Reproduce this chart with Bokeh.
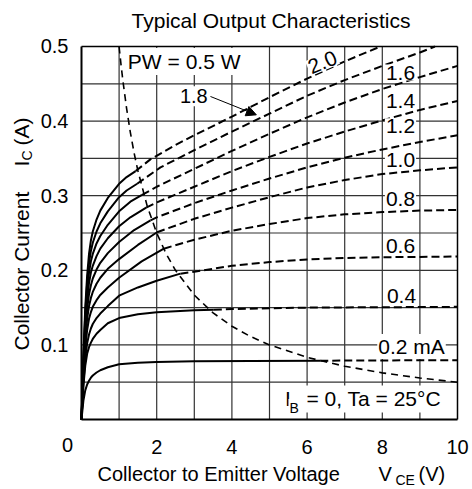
import math
from bokeh.plotting import figure
from bokeh.models import Range1d, FixedTicker, Label, Arrow, NormalHead
from bokeh.embed import file_html
from bokeh.resources import INLINE

FONT = "Liberation Sans"

# ---- data (V_CE in volts, I_C in amperes); k_* = index where the solid part turns dashed
ib_labels = ["2.0", "1.8", "1.6", "1.4", "1.2", "1.0", "0.8", "0.6", "0.4", "0.2 mA"]

v_ib20 = [0, 0.05, 0.1, 0.15, 0.2, 0.25, 0.3, 0.4, 0.5, 0.7, 1.0, 1.2, 1.44, 1.84, 2.5, 3, 4, 5, 6, 7, 7.95]
i_ib20 = [0, 0.085, 0.15, 0.193, 0.222, 0.24, 0.252, 0.268, 0.28, 0.297, 0.316, 0.325, 0.333, 0.349, 0.368, 0.381, 0.406, 0.432, 0.457, 0.48, 0.5]
k_ib20 = 12

v_ib18 = [0, 0.05, 0.1, 0.15, 0.2, 0.25, 0.3, 0.4, 0.5, 0.7, 1.0, 1.2, 1.48, 2.1, 3, 4, 5, 6, 7, 8, 9, 9.4]
i_ib18 = [0, 0.08, 0.142, 0.183, 0.21, 0.226, 0.237, 0.252, 0.263, 0.279, 0.298, 0.307, 0.316, 0.338, 0.361, 0.386, 0.41, 0.434, 0.455, 0.474, 0.492, 0.5]
k_ib18 = 12

v_ib16 = [0, 0.05, 0.1, 0.15, 0.2, 0.25, 0.3, 0.4, 0.5, 0.7, 1.0, 1.3, 1.61, 2, 3, 4, 5, 6, 7, 8, 9, 10]
i_ib16 = [0, 0.075, 0.134, 0.172, 0.197, 0.212, 0.222, 0.236, 0.246, 0.261, 0.279, 0.292, 0.301, 0.312, 0.336, 0.36, 0.383, 0.405, 0.425, 0.443, 0.459, 0.474]
k_ib16 = 12

v_ib14 = [0, 0.05, 0.1, 0.15, 0.2, 0.25, 0.3, 0.4, 0.5, 0.7, 1.0, 1.3, 1.72, 2, 3, 4, 5, 6, 7, 8, 9, 10]
i_ib14 = [0, 0.07, 0.125, 0.16, 0.183, 0.197, 0.206, 0.219, 0.229, 0.243, 0.259, 0.271, 0.284, 0.291, 0.312, 0.333, 0.352, 0.37, 0.386, 0.401, 0.415, 0.427]
k_ib14 = 12

v_ib12 = [0, 0.05, 0.1, 0.15, 0.2, 0.25, 0.3, 0.4, 0.5, 0.7, 1.0, 1.4, 1.835, 2, 3, 4, 5, 6, 7, 8, 9, 10]
i_ib12 = [0, 0.065, 0.115, 0.148, 0.168, 0.18, 0.189, 0.201, 0.21, 0.223, 0.238, 0.254, 0.267, 0.271, 0.29, 0.307, 0.323, 0.338, 0.351, 0.362, 0.372, 0.381]
k_ib12 = 12

v_ib10 = [0, 0.05, 0.1, 0.15, 0.2, 0.25, 0.3, 0.4, 0.5, 0.7, 1.0, 1.5, 2.01, 3, 4, 5, 6, 7, 8, 9, 10]
i_ib10 = [0, 0.06, 0.105, 0.135, 0.152, 0.163, 0.171, 0.182, 0.19, 0.202, 0.215, 0.234, 0.251, 0.269, 0.284, 0.298, 0.311, 0.321, 0.329, 0.334, 0.338]
k_ib10 = 12

v_ib08 = [0, 0.05, 0.1, 0.15, 0.2, 0.25, 0.3, 0.4, 0.5, 0.7, 1.0, 1.6, 2.19, 3, 4, 5, 6, 7, 8, 9, 10]
i_ib08 = [0, 0.055, 0.095, 0.12, 0.135, 0.144, 0.151, 0.16, 0.167, 0.177, 0.19, 0.212, 0.229, 0.241, 0.253, 0.262, 0.27, 0.275, 0.278, 0.28, 0.281]
k_ib08 = 12

v_ib06 = [0, 0.05, 0.1, 0.15, 0.2, 0.25, 0.3, 0.4, 0.5, 0.7, 1.0, 1.5, 2.0, 2.63, 3, 4, 5, 6, 7, 8, 10]
i_ib06 = [0, 0.048, 0.082, 0.102, 0.114, 0.122, 0.128, 0.136, 0.142, 0.152, 0.166, 0.177, 0.186, 0.1955, 0.198, 0.206, 0.211, 0.2145, 0.2165, 0.2175, 0.2185]
k_ib06 = 13

v_ib04 = [0, 0.05, 0.1, 0.15, 0.2, 0.25, 0.3, 0.4, 0.5, 0.7, 1.0, 1.5, 2.0, 3.0, 3.52, 4, 5, 6, 8, 10]
i_ib04 = [0, 0.045, 0.072, 0.088, 0.097, 0.103, 0.108, 0.115, 0.12, 0.129, 0.136, 0.141, 0.1437, 0.1465, 0.147, 0.148, 0.149, 0.15, 0.1505, 0.151]
k_ib04 = 14

v_ib02 = [0, 0.05, 0.1, 0.15, 0.2, 0.25, 0.3, 0.4, 0.5, 0.7, 1.0, 1.5, 2.0, 3.0, 4.5, 6.35, 8, 10]
i_ib02 = [0, 0.025, 0.039, 0.047, 0.052, 0.056, 0.059, 0.063, 0.066, 0.070, 0.074, 0.076, 0.077, 0.078, 0.0785, 0.0788, 0.0792, 0.0795]
k_ib02 = 15

# power limit PW = 0.5 W
pw_v = [1.0, 1.05, 1.1, 1.2, 1.3, 1.4, 1.5, 1.75, 2.0, 2.25, 2.5, 3.0, 3.5, 4.0, 4.5, 5.0, 6.0, 7.0, 8.0, 9.0, 10.0]
pw_i = [0.5, 0.476, 0.4545, 0.4167, 0.3846, 0.3571, 0.3333, 0.2857, 0.25, 0.2222, 0.2, 0.1667, 0.1429, 0.125, 0.1111, 0.1, 0.0833, 0.0714, 0.0625, 0.0556, 0.05]

x_ticks = [2, 4, 6, 8, 10]
y_ticks = [0.1, 0.2, 0.3, 0.4, 0.5]
x_grid = [1, 2, 3, 4, 5, 6, 7, 8, 9]
y_grid = [0.05, 0.1, 0.15, 0.2, 0.25, 0.3, 0.35, 0.4, 0.45]
x_lim = [0, 10]
y_lim = [0, 0.5]

curves = [
    (v_ib20, i_ib20, k_ib20), (v_ib18, i_ib18, k_ib18), (v_ib16, i_ib16, k_ib16),
    (v_ib14, i_ib14, k_ib14), (v_ib12, i_ib12, k_ib12), (v_ib10, i_ib10, k_ib10),
    (v_ib08, i_ib08, k_ib08), (v_ib06, i_ib06, k_ib06), (v_ib04, i_ib04, k_ib04),
    (v_ib02, i_ib02, k_ib02),
]

# whole canvas is the frame; the data box 0..10 x 0..0.5 sits at px (81..457, 46..419)
p = figure(width=472, height=489,
           x_range=Range1d(-2.15426, 10.39894), y_range=Range1d(-0.093834, 0.561662),
           output_backend="svg", toolbar_location=None, min_border=0)
p.background_fill_color = "white"
p.border_fill_color = "white"
p.outline_line_color = None
p.xgrid.visible = False
p.ygrid.visible = False

# grid lines
p.segment(x0=x_grid, y0=[y_lim[0]] * len(x_grid), x1=x_grid, y1=[y_lim[1]] * len(x_grid),
          line_color="#333333", line_width=1.2)
p.segment(x0=[x_lim[0]] * len(y_grid), y0=y_grid, x1=[x_lim[1]] * len(y_grid), y1=y_grid,
          line_color="#333333", line_width=1.2)
# top and right frame edges
p.segment(x0=[x_lim[0], x_lim[1]], y0=[y_lim[1], y_lim[0]], x1=[x_lim[1], x_lim[1]], y1=[y_lim[1], y_lim[1]],
          line_color="black", line_width=1.5)

# axes fixed at the data box edges
p.xaxis.fixed_location = 0
p.yaxis.fixed_location = 0
p.xaxis.bounds = (0, 10)
p.yaxis.bounds = (0, 0.5)
for ax, ticks in ((p.xaxis[0], x_ticks), (p.yaxis[0], y_ticks)):
    ax.ticker = FixedTicker(ticks=ticks)
    ax.axis_line_color = "black"
    ax.axis_line_width = 2
    ax.major_tick_line_color = None
    ax.minor_tick_line_color = None
    ax.major_label_text_font = FONT
    ax.major_label_text_font_size = "20px"
    ax.major_label_text_color = "black"
p.xaxis.major_label_standoff = 15
p.yaxis.major_label_standoff = 7

for v, i, k in curves:
    p.line(v[:k + 1], i[:k + 1], line_color="black", line_width=2)
    p.line(v[k:], i[k:], line_color="black", line_width=2, line_dash="8 4")

p.line(pw_v, pw_i, line_color="black", line_width=1.6, line_dash="7 5")


def lab(text, x, y, size="20px", align="left", baseline="middle", angle=0.0, bg=None, pad=0):
    kw = {}
    if bg:
        kw = dict(background_fill_color=bg, padding=pad)
    p.add_layout(Label(x=x, y=y, text=text, text_font=FONT, text_font_size=size,
                       text_color="black", text_align=align, text_baseline=baseline,
                       angle=angle, **kw))


# title
lab("Typical Output Characteristics", 5.04, 0.5349, size="21px", align="center")
# origin tick label
lab("0", -0.3723, -0.03485, align="center")
# x axis label
lab("Collector to Emitter Voltage", 0.4255, -0.07346, size="20px")
lab("V", 7.899, -0.07346, size="20px")
lab("CE", 8.351, -0.08043, size="14px")
lab("(V)", 8.963, -0.07346, size="20px")
# y axis label (rotated)
lab("Collector Current", -1.609, 0.0925, size="21px", angle=math.pi / 2)
lab("I", -1.609, 0.3391, size="21px", angle=math.pi / 2)
lab("C", -1.440, 0.3472, size="14px", angle=math.pi / 2)
lab("(A)", -1.609, 0.3673, size="21px", angle=math.pi / 2)

# in-plot labels
lab("PW = 0.5 W", 1.18, 0.480, size="21px", bg="white", pad=2)
lab("2.0", 6.41, 0.4786, size="21px", align="center", angle=0.4, bg="white", pad=1)
lab("1.8", 2.987, 0.4332, align="center", bg="white", pad=3)
lab("1.6", 8.484, 0.4651, size="21px", align="center", bg="white", pad=1)
lab("1.4", 8.484, 0.4276, size="21px", align="center", bg="white", pad=1)
lab("1.2", 8.484, 0.3932, size="21px", align="center", bg="white", pad=1)
lab("1.0", 8.484, 0.3485, size="21px", align="center", bg="white", pad=1)
lab("0.8", 8.484, 0.2962, size="21px", align="center", bg="white", pad=1)
lab("0.6", 8.484, 0.2332, size="21px", align="center", bg="white", pad=1)
lab("0.4", 8.51, 0.1649, size="21px", align="center", bg="white", pad=1)
lab("0.2 mA", 8.777, 0.0979, size="21px", align="center", bg="white", pad=1)
lab("I", 5.359, 0.0276, size="21px", bg="white", pad=2)
lab("B", 5.505, 0.0154, size="14px", bg="white", pad=1)
lab("= 0, Ta = 25°C", 5.931, 0.0276, size="21px", bg="white", pad=2)

p.add_layout(Arrow(end=NormalHead(size=10, fill_color="black", line_color="black"),
                   x_start=3.43, y_start=0.433, x_end=4.65, y_end=0.4084,
                   line_color="black", line_width=1))

open("out.html", "w").write(file_html(p, INLINE))
